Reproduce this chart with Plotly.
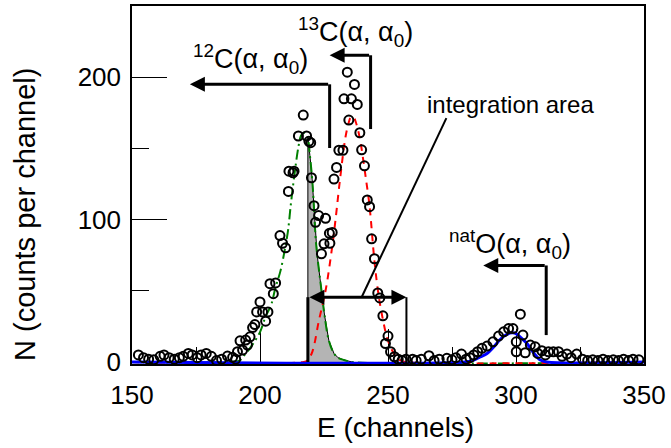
import plotly.graph_objects as go

# ---- measured data (channels, counts) ----
data_x = [152.5, 154.5, 156.5, 158.5, 161, 162.5, 164.5, 166.5, 168.5, 170, 172, 173.5, 175.5, 177, 179, 181, 183, 185,
          187.3, 189.3, 190.5, 191.2, 192.2, 193.2, 194.4, 195.1, 196.1, 197.1, 198, 198.7, 200, 201, 202.2, 203.1,
          203.9, 205.2, 206.1, 207.8, 208.8, 210, 211.1, 211.3, 212.9, 213.3, 215, 216.9, 218.2, 219.1, 219.8,
          220.1, 221.1, 221.7, 222.9, 224, 225, 225.6, 227.1, 227.3, 228.2,
          228.9, 229.9, 230.8, 232.4, 232.8, 234.1, 234.7, 235.7, 236.9, 238, 239, 239.7, 240.8, 241.9, 242.8,
          243.6, 244.7, 246, 246.8, 248, 249, 250, 251, 252.5,
          254, 255.5, 257, 259.6, 261, 263, 266, 268, 270, 273, 275, 276.5, 278.7, 280.5, 282, 283.5,
          285, 286.7, 288.7, 291, 293.2, 295.2, 297.1, 298.8, 300.1, 300.1, 301.7, 302.7, 303.6, 305.6, 307.5,
          308.5, 310.1, 311.5, 312.7, 314.6, 316.6, 318, 319.9, 321.5, 323.7, 326, 328, 330, 332, 334, 336,
          338, 340, 342, 344, 345.7, 348]
data_y = [5, 3, 2, 1.5, 4, 5, 3, 2, 3, 4, 6, 5, 3, 5, 6, 4, 1, 2,
          4.2, 3.3, 2, 7.2, 14.9, 8.4, 15.4, 11.9, 17.7, 24.2, 26.3, 35.2, 42.2, 35.2, 28.7, 35.2,
          55, 48, 55.5, 88.8, 83.4, 80.2, 119.8, 134, 132.9, 134, 158.7, 173.4, 158.7, 155, 154,
          129.4, 109.8, 98.1, 102.8, 76, 83, 100.9, 90.4, 83.4, 91,
          128.5, 136.6, 148.7, 148.7, 184.8, 203.5, 169.9, 184.8, 194.9, 180.9, 161, 149, 137.8, 113.8, 109.1,
          86.5, 72.5, 48.5, 45, 32.4, 13, 18.2, 7.2, 3.7,
          2, 1, 2, 2, 1, 2, 4.4, 1, 2, 2.6, 1.5, 3, 5.6, 2, 3, 5,
          7.2, 9.6, 11.2, 14.2, 18.2, 21.2, 23.5, 23.5, 14.2, 7.2, 33.6, 18.9, 6.5, 11.9, 10.7,
          6, 7.9, 5, 7.2, 7.2, 7.2, 4, 5.6, 3, 5.6, 2, 1, 1.5, 1, 2, 1,
          1.5, 1, 2, 1, 2, 1.5]

# 12C fit (green dash-dot)
c12_x = [150, 188, 192, 194, 197, 200, 202, 204.5, 206, 208, 210, 211, 212, 213, 214, 215, 216, 217, 218, 218.7,
         219.5, 220.4, 221.1, 221.7, 222.3, 223, 224.3, 225.2, 226.9, 228.9, 230.5, 232.8, 236, 350]
c12_y = [0, 0, 1, 5, 12, 21, 31, 41, 52, 64, 82, 93, 110, 125, 139, 151, 159, 161, 160, 157,
         145, 128, 108, 88, 76, 65, 46, 33, 15, 6, 3, 1.4, 0, 0]

# integration (grey) area = right part of 12C fit
area_x = [218.7, 218.7, 219.5, 220.4, 221.1, 221.7, 222.3, 223, 224.3, 225.2, 226.9, 228.9, 230.5, 232.8, 236]
area_y = [0, 157, 145, 128, 108, 88, 76, 65, 46, 33, 15, 6, 3, 1.4, 0]

# 13C fit (red dashed)
c13_x = [150, 217, 218.5, 220.4, 223, 225.6, 228.2, 229.5, 231.5, 233.4, 234.5, 235.5, 236.5, 237.5, 239,
         240, 241.5, 242.5, 243.2, 244.7, 246.4, 248.1, 250, 253, 255, 257, 350]
c13_y = [0, 0, 1, 7, 29, 50, 81, 100, 132, 158, 167, 172, 172, 168, 157,
         146, 127, 114, 102, 71, 46, 29, 15, 4, 1, 0, 0]

# natO fit (blue)
o_x = [150, 280, 283, 286, 288.7, 291, 293.9, 296, 298.4, 300, 302, 304.3, 306, 308, 309.5, 312, 350]
o_y = [0, 0, 1, 3.5, 6, 10, 16, 19, 20.5, 20, 17, 13, 8.5, 4, 1.4, 0, 0]

# integration window and annotation anchors (data units)
win_x0, win_x1, win_top = 218.7, 257.2, 45.5

FONT = "Liberation Sans, Arial, sans-serif"

fig = go.Figure()
fig.add_trace(go.Scatter(x=area_x, y=area_y, mode="lines", fill="tozeroy",
                         fillcolor="#b4b4b4", line=dict(color="black", width=1), hoverinfo="skip"))
fig.add_trace(go.Scatter(x=c12_x, y=c12_y, mode="lines", line=dict(color="#008000", width=2, dash="10px,4px,2px,4px"),
                         line_shape="spline"))
fig.add_trace(go.Scatter(x=c13_x, y=c13_y, mode="lines", line=dict(color="#ff0000", width=2, dash="7px,6px"),
                         line_shape="spline"))
fig.add_trace(go.Scatter(x=o_x, y=o_y, mode="lines", line=dict(color="#0000ff", width=3),
                         line_shape="spline", cliponaxis=False))
fig.add_trace(go.Scatter(x=data_x, y=data_y, mode="markers", cliponaxis=False,
                         marker=dict(symbol="circle-open", size=9, color="black", line=dict(width=2, color="black"))))

# integration window box
fig.add_shape(type="line", x0=win_x0, x1=win_x0, y0=0, y1=win_top, line=dict(color="black", width=3))
fig.add_shape(type="line", x0=win_x1, x1=win_x1, y0=0, y1=win_top, line=dict(color="black", width=2))
fig.add_annotation(x=win_x1, y=win_top, ax=win_x0, ay=win_top, xref="x", yref="y", axref="x", ayref="y",
                   text="", showarrow=True, arrowhead=2, arrowside="end+start", arrowwidth=3, arrowsize=1,
                   arrowcolor="black")
# pointer line to label
fig.add_shape(type="line", x0=239.7, y0=win_top, x1=272.8, y1=171.3, line=dict(color="black", width=2))

# reaction arrows
arrows = [
    (227.2, 150.3, 195.0, 172.6),
    (243.2, 163.6, 215.4, 227.2),
    (311.8, 18.9, 67.8, 287.2),
]
for xv, ybot, ytop, xtip in arrows:
    fig.add_shape(type="line", x0=xv, x1=xv, y0=ybot, y1=ytop, line=dict(color="black", width=3))
    fig.add_annotation(x=xtip, y=ytop, ax=xv, ay=ytop, xref="x", yref="y", axref="x", ayref="y",
                       text="", showarrow=True, arrowhead=2, arrowwidth=3, arrowsize=1, arrowcolor="black")

labels = [
    (196.4, 212.6, "<sup>12</sup>C(α, α<sub>0</sub>)", 27),
    (237.3, 232.0, "<sup>13</sup>C(α, α<sub>0</sub>)", 27),
    (297.8, 83.0, "<sup>nat</sup>O(α, α<sub>0</sub>)", 27),
    (297.8, 181.0, "integration area", 24),
]
for lx, ly, txt, fs in labels:
    fig.add_annotation(x=lx, y=ly, xref="x", yref="y", text=txt, showarrow=False,
                       font=dict(family=FONT, size=fs, color="black"))

# axis titles
fig.add_annotation(x=0.514, y=-0.176, xref="paper", yref="paper", text="E (channels)", showarrow=False,
                   font=dict(family=FONT, size=28, color="black"), xanchor="center", yanchor="middle")
fig.add_annotation(x=-0.209, y=0.419, xref="paper", yref="paper", text="N (counts per channel)", showarrow=False,
                   textangle=-90, font=dict(family=FONT, size=29, color="black"), xanchor="center", yanchor="middle")

fig.update_layout(
    width=671, height=448, margin=dict(l=132, r=27, t=4, b=84),
    paper_bgcolor="white", plot_bgcolor="white", showlegend=False,
    font=dict(family=FONT, size=26, color="black"),
)
fig.update_xaxes(range=[150, 350], tickvals=[150, 200, 250, 300, 350], ticks="inside", ticklen=35, tickwidth=1,
                 minor=dict(tickvals=[175, 225, 275, 325], ticks="inside", ticklen=17, tickwidth=1, tickcolor="black"),
                 showline=True, linecolor="black", linewidth=1.5, mirror=True, showgrid=False, zeroline=False,
                 tickcolor="black", tickfont=dict(size=26), ticklabelstandoff=7, layer="below traces")
fig.update_yaxes(range=[-1.4, 250], tickvals=[0, 100, 200], ticks="inside", ticklen=35, tickwidth=1,
                 minor=dict(tickvals=[50, 150], ticks="inside", ticklen=17, tickwidth=1, tickcolor="black"),
                 showline=True, linecolor="black", linewidth=1.5, mirror=True, showgrid=False, zeroline=False,
                 tickcolor="black", tickfont=dict(size=26), ticklabelstandoff=4, layer="below traces")

fig.write_html("out.html")
